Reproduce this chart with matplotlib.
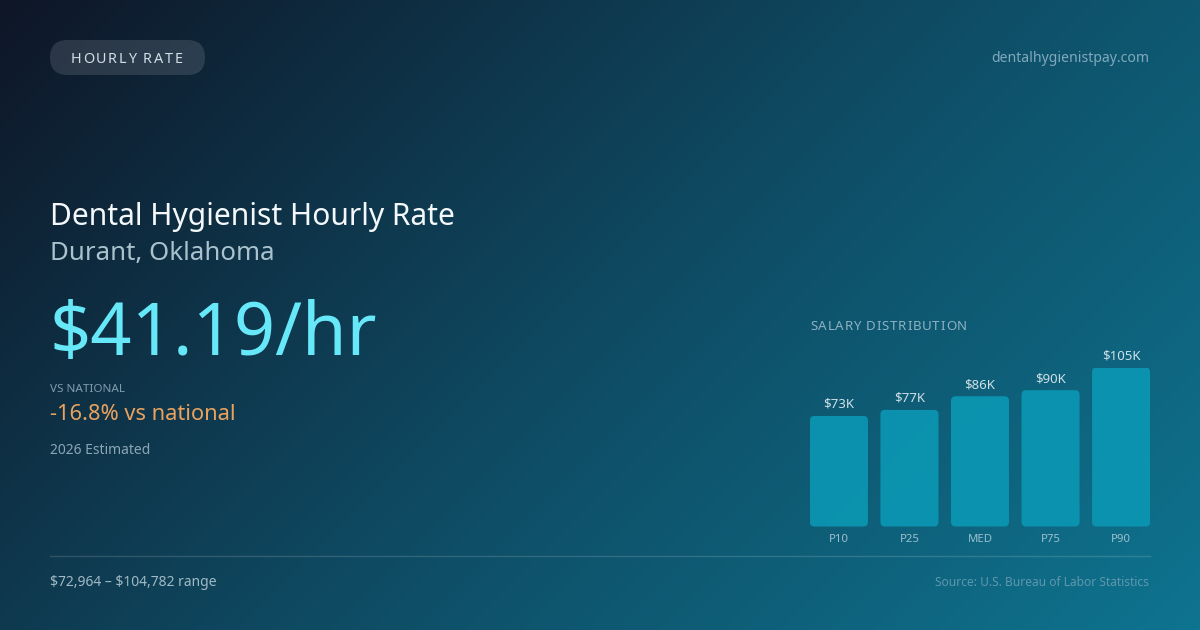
import numpy as np
import matplotlib
matplotlib.use("Agg")
import matplotlib.pyplot as plt
from matplotlib.patches import FancyBboxPatch
from matplotlib.colors import LinearSegmentedColormap

plt.rcParams['font.family'] = ['Noto Sans', 'DejaVu Sans']

# ---- data ----
categories = ["P10", "P25", "MED", "P75", "P90"]
salaries_k = [73, 77, 86, 90, 105]
value_labels = ["$73K", "$77K", "$86K", "$90K", "$105K"]

badge_text = "HOURLY RATE"
site_text = "dentalhygienistpay.com"
title_text = "Dental Hygienist Hourly Rate"
subtitle_text = "Durant, Oklahoma"
rate_text = "$41.19/hr"
vs_label = "VS NATIONAL"
vs_text = "-16.8% vs national"
est_text = "2026 Estimated"
range_text = "$72,964 \u2013 $104,782 range"
source_text = "Source: U.S. Bureau of Labor Statistics"
chart_title = "SALARY DISTRIBUTION"


def esc(s):
    return s.replace("$", r"\$")


W, H = 1200, 630
fig = plt.figure(figsize=(W / 100, H / 100), dpi=100)
renderer = fig.canvas.get_renderer()

# ---- background gradient (135deg) ----
bg = fig.add_axes([0, 0, 1, 1])
xx, yy = np.meshgrid(np.arange(W), np.arange(H))
t = (xx + yy) / (W + H)
cmap = LinearSegmentedColormap.from_list("bg", ["#0e1627", "#0e4a62", "#0e7490"])
bg.imshow(t, cmap=cmap, vmin=0, vmax=1, aspect="auto", extent=[0, W, H, 0])
bg.set_xlim(0, W)
bg.set_ylim(H, 0)
bg.axis("off")


def text_width(s, size):
    tt = bg.text(0, 0, s + "x", fontsize=size)
    w1 = tt.get_window_extent(renderer).width
    tt.remove()
    tt = bg.text(0, 0, "x", fontsize=size)
    w2 = tt.get_window_extent(renderer).width
    tt.remove()
    return w1 - w2


def spaced_text(x, y, s, size, color, spacing):
    for i, ch in enumerate(s):
        xi = x + text_width(s[:i], size) + i * spacing if i else x
        bg.text(xi, y, ch, fontsize=size, color=color, ha="left", va="baseline")


# badge pill
pill = FancyBboxPatch((50 + 17.5, 40 + 17.5), 155 - 35, 0.0001,
                      boxstyle="round,pad=17.5", fc=(1, 1, 1, 0.12), ec="none")
bg.add_patch(pill)
spaced_text(70.5, 63.3, badge_text, 10.4, "#d3dee5", 1.7)
bg.text(1149, 58, site_text, color="#80a9bc", fontsize=10.1, ha="right", va="center")

bg.text(50, 225, title_text, color="#f4f8fa", fontsize=21.6, ha="left", va="baseline")
bg.text(50, 260, subtitle_text, color="#a9c2cd", fontsize=18.6, ha="left", va="baseline")
bg.text(49, 355, esc(rate_text), color="#67e8f9", fontsize=52, ha="left", va="baseline")
bg.text(50, 392, vs_label, color="#7f9cad", fontsize=8.4, ha="left", va="baseline")
bg.text(50, 420.5, vs_text, color="#eaa25e", fontsize=15.7, ha="left", va="baseline")
bg.text(50, 454.5, est_text, color="#8ba6b5", fontsize=10.0, ha="left", va="baseline")

bg.plot([50, 1150], [556, 556], color=(1, 1, 1, 0.14), lw=1)
bg.text(50, 586.5, esc(range_text), color="#a0b9c5", fontsize=10.0, ha="left", va="baseline")
bg.text(1149, 586.5, source_text, color="#5f97ad", fontsize=8.6, ha="right", va="baseline")
spaced_text(810, 330.5, chart_title, 9.6, "#8db2c3", 0.8)

# ---- bar chart ----
ax_left, ax_right = 810, 1150
ax_bottom, ax_top = 526.5, 367.5
ax = fig.add_axes([ax_left / W, 1 - ax_bottom / H,
                   (ax_right - ax_left) / W, (ax_bottom - ax_top) / H])
ax.patch.set_alpha(0)
xpos = np.arange(len(categories))
bw = 0.823
bars = ax.bar(xpos, salaries_k, width=bw, color="none")
ax.set_xlim(-0.41, len(categories) - 1 + 0.41)
ax.set_ylim(0, max(salaries_k))
for s in ax.spines.values():
    s.set_visible(False)
ax.set_xticks([])
ax.set_yticks([])

# rounded versions of bars
px_per_x = (ax_right - ax_left) / (len(categories) - 1 + 0.82)
px_per_y = (ax_bottom - ax_top) / max(salaries_k)
asp = px_per_x / px_per_y
r_px = 4.5
for b, lab, cat in zip(bars, value_labels, categories):
    x0, y0 = b.get_x(), b.get_y()
    w, h = b.get_width(), b.get_height()
    rx = r_px / px_per_x
    patch = FancyBboxPatch((x0 + rx, y0 + rx * asp), w - 2 * rx, h - 2 * rx * asp,
                           boxstyle=f"round,pad={rx},rounding_size={rx}",
                           mutation_aspect=asp,
                           fc="#0b95b1", ec="none", alpha=0.95)
    ax.add_patch(patch)
    ax.annotate(esc(lab), (x0 + w / 2, h), xytext=(0, 8), textcoords="offset pixels",
                ha="center", va="baseline", color="#cfe0e7", fontsize=9.5,
                annotation_clip=False)
    ax.annotate(cat, (x0 + w / 2, 0), xytext=(0, -16),
                textcoords="offset pixels", ha="center", va="baseline",
                color="#9cc0ce", fontsize=8.2, annotation_clip=False)

fig.savefig("out.png", dpi=100)
